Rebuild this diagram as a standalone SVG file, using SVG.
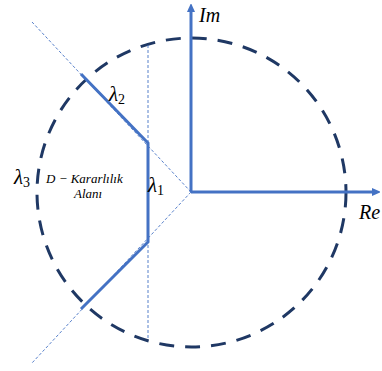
<svg xmlns="http://www.w3.org/2000/svg" width="382" height="371" viewBox="0 0 382 371">
<defs>
<marker id="arr" markerWidth="8" markerHeight="8" refX="4" refY="4" orient="auto" markerUnits="userSpaceOnUse">
<path d="M0,0 L9,4 L0,8 Z" fill="#4472c4"/>
</marker>
<style>
.ax{stroke:#4472c4;stroke-width:3;fill:none}
.thin{stroke:#4472c4;stroke-width:0.9;fill:none;stroke-dasharray:3,2}
.lab{font-family:"Liberation Serif",serif;font-style:italic;fill:#000}
.sub{font-style:normal;font-size:14px}
</style>
</defs>
<rect width="382" height="371" fill="#fff"/>
<g id="circle">
<circle cx="191.5" cy="192.5" r="154.5" fill="none" stroke="#1f3864" stroke-width="3" stroke-dasharray="15,11"/>
</g>
<g id="connectors">
<line class="thin" x1="191" y1="192" x2="32" y2="22"/>
<line class="thin" x1="191" y1="192" x2="32" y2="363"/>
<line class="thin" x1="148" y1="45" x2="148" y2="340"/>
<line class="ax" x1="191" y1="192" x2="191" y2="8" marker-end="url(#arr)"/>
<line class="ax" x1="191" y1="192" x2="376" y2="192" marker-end="url(#arr)"/>
<polyline class="ax" points="81,74 148,143 148,242 81,309"/>
</g>
<g id="labels">
<text class="lab" x="199" y="22" font-size="20">Im</text>
<text class="lab" x="359" y="219" font-size="20">Re</text>
<text class="lab" x="109" y="101" font-size="21">λ<tspan class="sub" dy="3">2</tspan></text>
<text class="lab" x="148" y="192" font-size="21">λ<tspan class="sub" dy="3">1</tspan></text>
<text class="lab" x="14" y="184" font-size="21">λ<tspan class="sub" dy="3">3</tspan></text>
<text class="lab" x="46" y="183" font-size="13">D  − Kararlılık</text>
<text class="lab" x="74" y="198" font-size="13">Alanı</text>
</g>
</svg>
